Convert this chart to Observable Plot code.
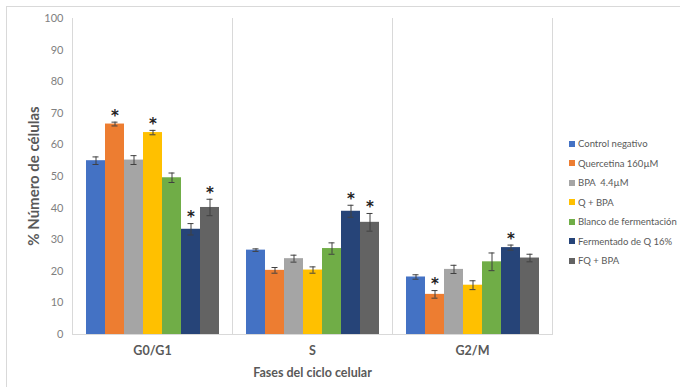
<!DOCTYPE html>
<html>
<head>
<meta charset="utf-8">
<script src="https://cdn.jsdelivr.net/npm/d3@7"></script>
<script src="https://cdn.jsdelivr.net/npm/@observablehq/plot@0.6"></script>
<style>
  body { margin: 0; background: #fff; }
  #wrap { position: relative; width: 680px; height: 387px; font-family: Lato, "Open Sans", sans-serif; color: #595959; overflow: hidden; }
  #border { position: absolute; left: 6px; top: 6px; right: -10px; bottom: -10px; border-top: 1px solid #d9d9d9; border-left: 1px solid #d9d9d9; pointer-events: none; }
  #ylabel { position: absolute; left: 33px; top: 176px; transform: translate(-50%, -50%) rotate(-90deg); white-space: nowrap; font-weight: bold; font-size: 15px; }
  #legend { position: absolute; left: 569px; top: 134px; font-size: 9.5px; }
  #legend .item { height: 19.5px; display: flex; align-items: center; white-space: pre; }
  #legend .sw { width: 6px; height: 6px; margin-right: 3px; flex: none; }
  svg { position: absolute; left: 0; top: 0; }
</style>
</head>
<body>
<div id="wrap">
  <div id="border"></div>
  <div id="ylabel">% Número de células</div>
  <div id="legend"></div>
</div>
<script>
const phases = ["G0/G1", "S", "G2/M"];
const treatments = ["Control negativo", "Quercetina 160µM", "BPA  4.4µM", "Q + BPA", "Blanco de fermentación", "Fermentado de Q 16%", "FQ + BPA"];
const colors = ["#4472C4", "#ED7D31", "#A5A5A5", "#FFC000", "#70AD47", "#264478", "#636363"];

// values per treatment across phases [G0/G1, S, G2/M]
const controlNegativo = [55.0, 26.7, 18.2];
const quercetina = [66.6, 20.3, 12.7];
const bpa = [55.2, 24.0, 20.6];
const qBpa = [63.9, 20.4, 15.6];
const blanco = [49.6, 27.2, 23.0];
const fermentado = [33.3, 39.0, 27.5];
const fqBpa = [40.2, 35.5, 24.2];
const values = [controlNegativo, quercetina, bpa, qBpa, blanco, fermentado, fqBpa];

// standard error bars
const errControl = [1.2, 0.4, 0.7];
const errQuercetina = [0.6, 0.9, 1.2];
const errBpa = [1.4, 1.1, 1.3];
const errQBpa = [0.7, 1.0, 1.4];
const errBlanco = [1.5, 1.8, 2.8];
const errFermentado = [1.8, 1.9, 0.8];
const errFqBpa = [2.6, 2.8, 1.2];
const errors = [errControl, errQuercetina, errBpa, errQBpa, errBlanco, errFermentado, errFqBpa];

// significance marks (*)
const sigControl = [false, false, false];
const sigQuercetina = [true, false, true];
const sigBpa = [false, false, false];
const sigQBpa = [true, false, false];
const sigBlanco = [false, false, false];
const sigFermentado = [true, true, true];
const sigFqBpa = [true, true, false];
const sigs = [sigControl, sigQuercetina, sigBpa, sigQBpa, sigBlanco, sigFermentado, sigFqBpa];

const yTicks = [0, 10, 20, 30, 40, 50, 60, 70, 80, 90, 100];

const data = treatments.flatMap((t, i) => phases.map((p, j) => ({
  phase: p, treatment: t, value: values[i][j], err: errors[i][j], sig: sigs[i][j]
})));

const chart = Plot.plot({
  width: 680,
  height: 387,
  marginLeft: 71,
  marginRight: 127,
  marginTop: 18,
  marginBottom: 53,
  style: { fontFamily: "Lato, 'Open Sans', sans-serif", color: "#595959", background: "transparent", overflow: "visible" },
  fx: { domain: phases, padding: 0 },
  x: { domain: treatments, paddingInner: 0, paddingOuter: 0.7, axis: null },
  y: { domain: [0, 100] },
  color: { domain: treatments, range: colors },
  marks: [
    Plot.frame({ anchor: "left", stroke: "#d9d9d9" }),
    Plot.frame({ anchor: "right", stroke: "#d9d9d9" }),
    Plot.ruleY([0], { stroke: "#d9d9d9" }),
    Plot.barY(data, { fx: "phase", x: "treatment", y: "value", fill: "treatment" }),
    Plot.ruleX(data, { fx: "phase", x: "treatment", y1: d => d.value - d.err, y2: d => d.value + d.err, stroke: "#404040", strokeWidth: 1 }),
    Plot.tickY(data, { fx: "phase", x: "treatment", y: d => d.value - d.err, stroke: "#404040", insetLeft: 6.5, insetRight: 6.5 }),
    Plot.tickY(data, { fx: "phase", x: "treatment", y: d => d.value + d.err, stroke: "#404040", insetLeft: 6.5, insetRight: 6.5 }),
    Plot.text(data.filter(d => d.sig), { fx: "phase", x: "treatment", y: d => d.value + d.err, text: () => "*", dy: -6, lineAnchor: "middle", fontSize: 15, fontWeight: "bold", fontFamily: "'DejaVu Sans', sans-serif", fill: "#222" }),
    Plot.axisY({ ticks: yTicks, tickSize: 0, tickPadding: 9, label: null, fontSize: 11, fill: "#7f7f7f" }),
    Plot.axisFx({ anchor: "bottom", tickSize: 0, tickPadding: 12, fontSize: 12.5, fontWeight: "bold", label: "Fases del ciclo celular", labelAnchor: "center", labelOffset: 42, fill: "#595959" })
  ]
});

document.getElementById("wrap").appendChild(chart);

const legend = document.getElementById("legend");
treatments.forEach((t, i) => {
  const item = document.createElement("div");
  item.className = "item";
  const sw = document.createElement("span");
  sw.className = "sw";
  sw.style.background = colors[i];
  const lab = document.createElement("span");
  lab.textContent = t;
  item.appendChild(sw);
  item.appendChild(lab);
  legend.appendChild(item);
});
</script>
</body>
</html>
